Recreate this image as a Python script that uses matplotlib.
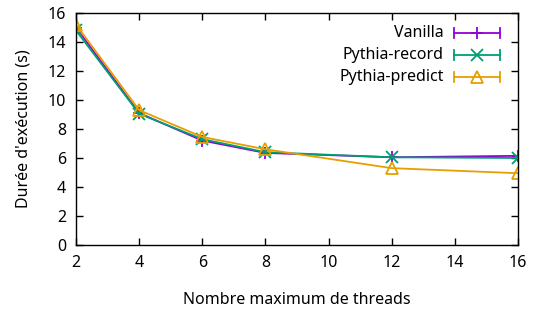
import matplotlib.pyplot as plt
from matplotlib.lines import Line2D

plt.rcParams['font.family'] = ['Noto Sans', 'DejaVu Sans']
plt.rcParams['font.size'] = 11.5

# données
threads = [2, 4, 6, 8, 12, 16]
vanilla = [15.0, 9.1, 7.2, 6.35, 6.05, 6.15]
record = [14.8, 9.05, 7.3, 6.4, 6.05, 6.0]
predict = [15.2, 9.3, 7.45, 6.6, 5.3, 4.95]

series = [
    ('Vanilla', vanilla, '#9400d3', '+', 'none'),
    ('Pythia-record', record, '#009e73', 'x', 'none'),
    ('Pythia-predict', predict, '#e69f00', '^', 'none'),
]

fig = plt.figure(figsize=(5.34, 3.14), dpi=100)
ax = fig.add_axes([76 / 534, 1 - 245 / 314, (518 - 76) / 534, (245 - 13) / 314])

for label, vals, color, marker, mfc in series:
    ax.plot(threads, vals, color=color, linewidth=1.3, marker=marker,
            markersize=8, markerfacecolor=mfc, markeredgewidth=1.3, label=label)

ax.set_xlim(2, 16)
ax.set_ylim(0, 16)
ax.set_xticks(range(2, 17, 2))
ax.set_yticks(range(0, 17, 2))
ax.tick_params(direction='in', top=True, right=True, length=5, width=1, pad=7)
for s in ax.spines.values():
    s.set_linewidth(1)

ax.set_xlabel('Nombre maximum de threads', labelpad=15)
ax.set_ylabel("Durée d'exécution (s)", labelpad=12)

# légende façon gnuplot : texte aligné à droite, échantillon avec barres aux extrémités
ys = [33, 55, 77]
for (label, vals, color, marker, mfc), y in zip(series, ys):
    yf = 1 - y / 314
    fig.text(444 / 534, yf, label, ha='right', va='center')
    x0, x1 = 454 / 534, 500 / 534
    fig.add_artist(Line2D([x0, x1], [yf, yf], color=color, linewidth=1.3))
    for xe in (x0, x1):
        fig.add_artist(Line2D([xe, xe], [yf - 5 / 314, yf + 5 / 314], color=color, linewidth=1.3))
    fig.add_artist(Line2D([(x0 + x1) / 2], [yf], color=color, marker=marker,
                          markersize=8, markerfacecolor=mfc, markeredgewidth=1.3))

fig.savefig('out.png', dpi=100)
